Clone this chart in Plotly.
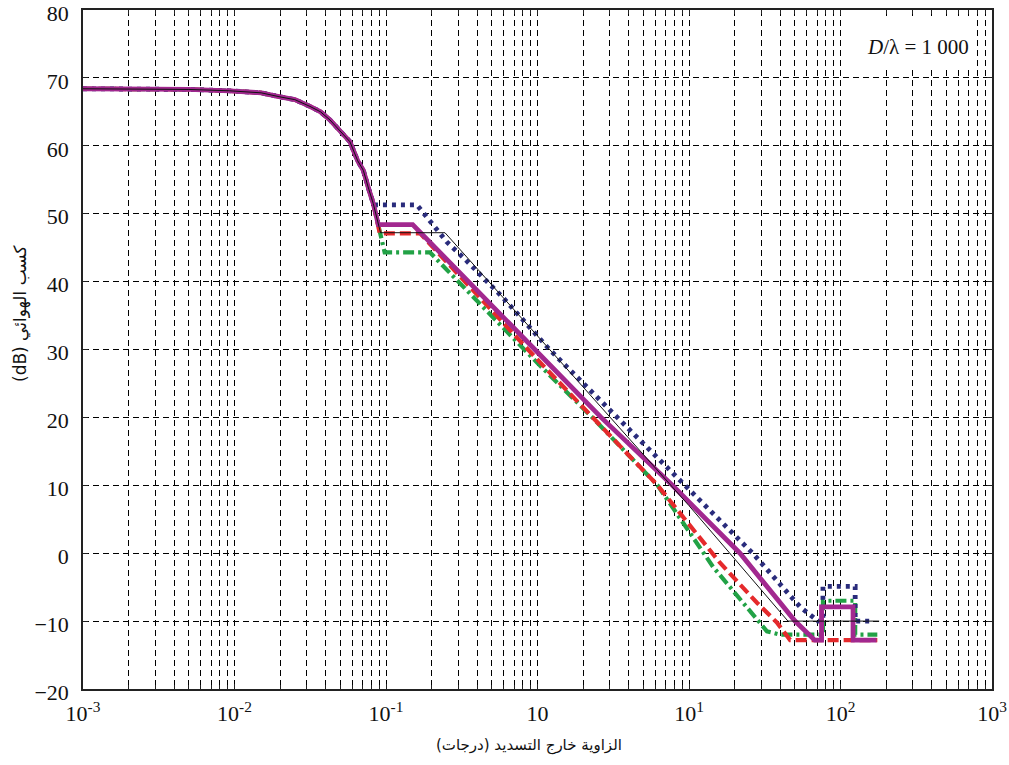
import plotly.graph_objects as go

# Off-axis angle (degrees) and gain (dB) of the shared main lobe
main_phi = [0.001, 0.002, 0.005, 0.0093, 0.015, 0.020, 0.025, 0.0315, 0.037,
            0.0427, 0.050, 0.0578, 0.065, 0.0708, 0.077, 0.0824]
main_gain = [68.4, 68.4, 68.3, 68.1, 67.8, 67.2, 66.8, 65.8, 65.0,
             63.8, 62.2, 60.6, 57.8, 56.4, 53.6, 51.5]

# Tails of each pattern after the main lobe
green_phi = [0.089, 0.098, 0.195, 1.0, 2.3, 6.2, 14.4, 27.3, 32.7, 40.0, 76.6, 76.6, 125.0, 125.0, 175.0]
green_gain = [48.3, 44.3, 44.3, 28.0, 20.0, 10.0, -2.0, -9.3, -11.5, -12.0, -12.0, -7.0, -7.0, -12.0, -12.0]

red_phi = [0.091, 0.168, 1.0, 2.3, 6.2, 16.0, 28.1, 38.0, 46.5, 175.0]
red_gain = [47.1, 47.1, 28.5, 20.0, 10.0, -1.4, -7.3, -10.2, -12.8, -12.8]

blue_phi = [0.083, 0.160, 0.186, 0.253, 0.322, 0.60, 1.2, 3.4, 9.4, 26.3, 54.1, 71.0, 76.6, 76.6, 125.0, 125.0, 164.0]
blue_gain = [51.3, 51.3, 49.4, 45.8, 43.6, 37.5, 30.0, 20.0, 10.0, 0.0, -7.9, -10.0, -10.0, -4.9, -4.9, -10.0, -10.0]

magenta_phi = [0.089, 0.150, 1.0, 2.63, 7.76, 21.7, 50.1, 67.6, 75.0, 75.0, 121.0, 121.0, 173.0]
magenta_gain = [48.4, 48.4, 29.6, 20.0, 10.0, 0.0, -10.0, -12.8, -12.8, -7.9, -7.9, -12.8, -12.8]

black_phi = [0.092, 0.245, 1.0, 3.0, 10.0, 45.0, 180.0]
black_gain = [47.2, 47.2, 32.0, 20.1, 7.0, -10.0, -10.0]

x_tickvals = [1e-3, 1e-2, 1e-1, 1, 10, 100, 1000]
x_ticktext = ["10<sup>-3</sup>", "10<sup>-2</sup>", "10<sup>-1</sup>", "10",
              "10<sup>1</sup>", "10<sup>2</sup>", "10<sup>3</sup>"]
y_tickvals = [-20, -10, 0, 10, 20, 30, 40, 50, 60, 70, 80]

FONT = "Liberation Serif, Times New Roman, serif"
GRID = "#000000"
GRID_DASH = "6px,4px"

# plot-area geometry in pixels, used to place the caption box
PX_L, PX_R, PX_T, PX_B = 83, 992, 10, 689

def px_x(px):
    return (px - PX_L) / (PX_R - PX_L)

def px_y(py):
    return (PX_B - py) / (PX_B - PX_T)

def lobe_until(phi0):
    """Main-lobe points that lie before the given angle."""
    pts = [(p, g) for p, g in zip(main_phi, main_gain) if p < phi0]
    return [p for p, _ in pts], [g for _, g in pts]

fig = go.Figure()

series = [
    (green_phi, green_gain, "#22A246", 4.2, "11px,4px,3px,4px"),
    (red_phi, red_gain, "#E52A2C", 4.2, "11px,5px"),
    (blue_phi, blue_gain, "#2A2C7C", 4.8, "4px,5px"),
    (magenta_phi, magenta_gain, "#A2288F", 4.8, "solid"),
    (black_phi, black_gain, "#111111", 1.0, "solid"),
]
for phi, gain, color, width, dash in series:
    lp, lg = lobe_until(phi[0])
    fig.add_trace(go.Scatter(
        x=lp + phi, y=lg + gain, mode="lines",
        line=dict(color=color, width=width, dash=dash),
        showlegend=False, hoverinfo="skip",
    ))

axis_common = dict(
    showline=True, linecolor="#222", linewidth=1.5, mirror="ticks",
    ticks="inside", ticklen=5, tickcolor="#222",
    tickfont=dict(family=FONT, size=22, color="#111"),
    showgrid=True, gridcolor=GRID, gridwidth=1.4, griddash=GRID_DASH,
    zeroline=False, automargin=False, ticklabeloverflow="allow",
)

fig.update_xaxes(
    type="log", range=[-3, 3], tickvals=x_tickvals, ticktext=x_ticktext,
    minor=dict(dtick="D1", showgrid=True, gridcolor=GRID, gridwidth=1.4,
               griddash=GRID_DASH, ticks="inside", ticklen=4, tickcolor="#222"),
    ticklabelstandoff=4,
    **axis_common,
)
fig.update_yaxes(
    range=[-20, 80], tickvals=y_tickvals, ticklabelstandoff=8,
    ticklabelshift=3,
    **axis_common,
)

# White panel that hides the grid behind the caption
fig.add_annotation(
    text=" ", xref="paper", yref="paper",
    x=px_x(843), y=px_y(20), xanchor="left", yanchor="top",
    width=132, height=48, bgcolor="white", borderpad=0, borderwidth=0,
    showarrow=False,
)
fig.add_annotation(
    text="<i>D</i>/λ = 1 000", xref="paper", yref="paper",
    x=px_x(971), y=px_y(47), xanchor="right", yanchor="middle",
    showarrow=False, font=dict(family=FONT, size=21, color="#111"),
)

# Axis titles
fig.add_annotation(
    text="الزاوية خارج التسديد (درجات)", xref="paper", yref="paper",
    x=px_x(529), y=px_y(745), xanchor="center", yanchor="middle",
    showarrow=False, font=dict(family="DejaVu Sans, serif", size=15, color="#111"),
)
fig.add_annotation(
    text="(dB) كسب الهوائي", xref="paper", yref="paper", textangle=-90,
    x=px_x(20), y=px_y(313), xanchor="center", yanchor="middle",
    showarrow=False, font=dict(family="DejaVu Sans, serif", size=17, color="#111"),
)

fig.update_layout(
    width=1009, height=765,
    margin=dict(l=PX_L, r=1009 - PX_R, t=PX_T, b=765 - PX_B),
    paper_bgcolor="white", plot_bgcolor="white",
    font=dict(family=FONT, color="#111"),
)

fig.write_html("out.html")
